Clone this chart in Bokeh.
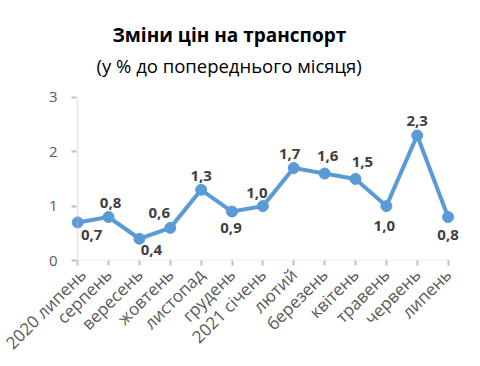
import math
from bokeh.plotting import figure
from bokeh.models import (ColumnDataSource, Range1d, FixedTicker, LabelSet, Title,
                          BoxAnnotation)
from bokeh.core.properties import value
from bokeh.embed import file_html
from bokeh.resources import INLINE

# ---- data ----
months = ["2020 липень", "серпень", "вересень", "жовтень", "листопад", "грудень",
          "2021 січень", "лютий", "березень", "квітень", "травень", "червень", "липень"]
values = [0.7, 0.8, 0.4, 0.6, 1.3, 0.9, 1.0, 1.7, 1.6, 1.5, 1.0, 2.3, 0.8]
y_ticks = [0, 1, 2, 3]
title_text = "Зміни цін на транспорт"
subtitle_text = "(у % до попереднього місяця)"

# label placement (screen px, y up)
label_dx = [14, 2, 12, -11, 0, -1, -6, -4, 3, 7, -2, 0, 0]
label_dy = [-13, 14, -11, 15, 14, -16, 13, 14, 17, 17, -20, 14, -18]

FONT = "Open Sans"
BLUE = "#5b9bd5"
AXIS = "#bfbfbf"
TXT = "#595959"

xs = list(range(len(months)))
src = ColumnDataSource(dict(
    x=xs, y=values,
    lbl=[f"{v:.1f}".replace(".", ",") for v in values],
    dx=label_dx, dy=label_dy,
))

p = figure(width=472, height=366, output_backend="svg", toolbar_location=None,
           x_range=Range1d(-0.2, len(months) - 1 + 0.5), y_range=Range1d(0, 3.31),
           min_border_left=71, min_border_right=9, min_border_top=80, min_border_bottom=106)
p.outline_line_color = None
p.xgrid.visible = False
p.ygrid.visible = False
p.background_fill_color = "white"
p.border_fill_color = "white"
p.title.visible = False

# x axis
xa = p.xaxis[0]
xa.ticker = FixedTicker(ticks=xs)
xa.major_label_overrides = {i: m for i, m in enumerate(months)}
xa.major_label_orientation = math.pi / 4
xa.axis_line_color = None
xa.major_tick_line_color = AXIS
xa.major_tick_line_width = 2
xa.major_tick_out = 5
xa.major_tick_in = 0
xa.minor_tick_line_color = None
xa.major_label_text_font = FONT
xa.major_label_text_font_size = "17px"
xa.major_label_text_color = TXT
xa.major_label_standoff = 6

# y axis
ya = p.yaxis[0]
ya.ticker = FixedTicker(ticks=y_ticks)
ya.axis_line_color = None
ya.major_tick_line_color = AXIS
ya.major_tick_line_width = 2
ya.major_tick_out = 0
ya.major_tick_in = 5
ya.minor_tick_line_color = None
ya.major_label_text_font = FONT
ya.major_label_text_font_size = "15px"
ya.major_label_text_color = TXT
ya.major_label_standoff = 14

# axis lines drawn between first/last category and tick values
p.add_layout(BoxAnnotation(left=xs[0], right=xs[-1], bottom=y_ticks[0], top=y_ticks[0],
                           fill_alpha=0, line_color=AXIS, line_width=2))
p.add_layout(BoxAnnotation(left=xs[0], right=xs[0], bottom=y_ticks[0], top=y_ticks[-1],
                           fill_alpha=0, line_color=AXIS, line_width=2))

p.line("x", "y", source=src, line_color=BLUE, line_width=4)
p.scatter("x", "y", source=src, size=11, fill_color=BLUE, line_color=BLUE)

p.add_layout(LabelSet(x="x", y="y", text="lbl", source=src, x_offset="dx", y_offset="dy",
                      text_align="center", text_baseline="middle",
                      text_font=value(FONT), text_font_size="15px", text_font_style="bold",
                      text_color="#404040"))

p.add_layout(Title(text=subtitle_text, align="left", offset=25, standoff=6,
                   text_font=FONT, text_font_size="18.5px", text_font_style="normal",
                   text_color="#000000"), "above")
p.add_layout(Title(text=title_text, align="left", offset=41, standoff=0,
                   text_font=FONT, text_font_size="19px", text_font_style="bold",
                   text_color="#000000"), "above")

open("out.html", "w").write(file_html(p, INLINE))
